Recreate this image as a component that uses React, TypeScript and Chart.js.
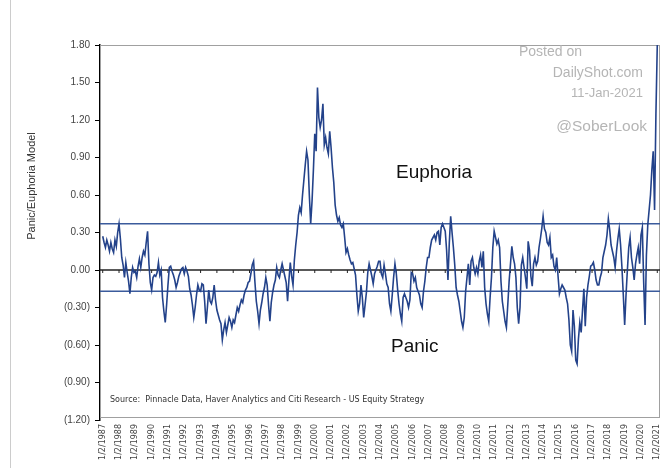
import { useEffect, useRef } from "react";
import { Chart, registerables } from "chart.js";

Chart.register(...registerables);

// Tick labels on the date axis (one per year, first trading day)
const xTickLabels: string[] = [
  "1/2/1987", "1/2/1988", "1/2/1989", "1/2/1990", "1/2/1991", "1/2/1992", "1/2/1993",
  "1/2/1994", "1/2/1995", "1/2/1996", "1/2/1997", "1/2/1998", "1/2/1999", "1/2/2000",
  "1/2/2001", "1/2/2002", "1/2/2003", "1/2/2004", "1/2/2005", "1/2/2006", "1/2/2007",
  "1/2/2008", "1/2/2009", "1/2/2010", "1/2/2011", "1/2/2012", "1/2/2013", "1/2/2014",
  "1/2/2015", "1/2/2016", "1/2/2017", "1/2/2018", "1/2/2019", "1/2/2020", "1/2/2021",
];
const pointsPerYear = 12;

const yTicks: number[] = [-1.2, -0.9, -0.6, -0.3, 0, 0.3, 0.6, 0.9, 1.2, 1.5, 1.8];

const euphoriaLevel = 0.37;
const panicLevel = -0.17;

// Panic/Euphoria Model, monthly readings Jan 1987 .. Jan 2021
const modelValues: number[] = [
  0.27, 0.22, 0.18, 0.24, 0.20, 0.15, 0.22, 0.17, 0.14, 0.24, 0.19, 0.30, // 1987
  0.37, 0.25, 0.10, 0.04, -0.06, 0.06, -0.02, -0.09, -0.19, -0.06, 0.02, -0.02, // 1988
  -0.01, -0.06, 0.03, 0.09, 0.02, 0.10, 0.15, 0.12, 0.22, 0.31, 0.05, -0.10, // 1989
  -0.16, -0.06, -0.04, -0.05, -0.02, 0.06, -0.04, 0.00, -0.22, -0.33, -0.42, -0.28, // 1990
  -0.12, 0.02, 0.03, -0.01, -0.04, -0.08, -0.14, -0.10, -0.05, -0.02, 0.01, 0.02, // 1991
  -0.03, 0.02, -0.01, -0.05, -0.15, -0.20, -0.28, -0.38, -0.30, -0.20, -0.12, -0.16, // 1992
  -0.17, -0.11, -0.12, -0.25, -0.43, -0.30, -0.16, -0.25, -0.27, -0.22, -0.12, -0.24, // 1993
  -0.32, -0.36, -0.40, -0.43, -0.56, -0.48, -0.42, -0.50, -0.44, -0.38, -0.41, -0.46, // 1994
  -0.40, -0.42, -0.36, -0.30, -0.33, -0.28, -0.24, -0.26, -0.20, -0.16, -0.14, -0.10, // 1995
  -0.09, -0.03, 0.04, 0.07, -0.10, -0.25, -0.33, -0.43, -0.32, -0.26, -0.19, -0.14, // 1996
  -0.06, -0.12, -0.28, -0.41, -0.26, -0.18, -0.12, -0.08, 0.02, -0.04, -0.06, 0.00, // 1997
  0.05, 0.00, -0.05, -0.10, -0.25, -0.08, 0.06, -0.05, -0.12, 0.08, 0.20, 0.30, // 1998
  0.44, 0.50, 0.46, 0.60, 0.72, 0.84, 0.95, 0.88, 0.60, 0.37, 0.55, 0.80, // 1999
  1.09, 0.95, 1.46, 1.22, 1.14, 1.20, 1.33, 1.00, 1.06, 0.98, 0.93, 1.11, // 2000
  0.98, 0.82, 0.70, 0.52, 0.44, 0.39, 0.42, 0.36, 0.34, 0.37, 0.26, 0.14, // 2001
  0.17, 0.12, 0.08, 0.05, 0.06, 0.01, -0.04, -0.20, -0.33, -0.27, -0.12, -0.22, // 2002
  -0.38, -0.28, -0.18, -0.02, 0.05, 0.00, -0.05, -0.11, -0.03, 0.00, 0.03, 0.07, // 2003
  0.07, -0.03, -0.06, 0.04, -0.03, -0.11, -0.14, -0.27, -0.33, -0.20, -0.06, 0.05, // 2004
  -0.03, -0.16, -0.27, -0.35, -0.41, -0.22, -0.19, -0.22, -0.25, -0.30, -0.24, -0.02, // 2005
  -0.03, -0.09, -0.06, -0.14, -0.17, -0.20, -0.27, -0.30, -0.17, -0.09, 0.02, 0.10, // 2006
  0.10, 0.18, 0.24, 0.26, 0.28, 0.24, 0.30, 0.31, 0.20, 0.34, 0.37, 0.34, // 2007
  0.31, 0.16, -0.08, 0.22, 0.43, 0.30, 0.18, 0.04, -0.14, -0.20, -0.25, -0.33, // 2008
  -0.41, -0.46, -0.38, -0.17, -0.06, 0.05, -0.12, 0.07, 0.10, 0.02, -0.03, 0.02, // 2009
  -0.03, 0.07, 0.12, 0.02, 0.15, -0.14, -0.27, -0.35, -0.41, -0.22, -0.06, 0.18, // 2010
  0.31, 0.26, 0.21, 0.24, 0.18, -0.09, -0.25, -0.33, -0.41, -0.46, -0.28, -0.09, // 2011
  0.05, 0.19, 0.10, 0.05, -0.06, -0.30, -0.43, -0.30, 0.04, 0.10, 0.02, -0.06, // 2012
  -0.15, 0.23, 0.16, -0.05, -0.13, 0.05, 0.10, 0.04, 0.07, 0.18, 0.25, 0.33, // 2013
  0.43, 0.33, 0.30, 0.22, 0.20, 0.26, 0.10, 0.12, 0.03, 0.00, 0.10, -0.05, // 2014
  -0.19, -0.15, -0.12, -0.14, -0.16, -0.22, -0.27, -0.40, -0.60, -0.65, -0.32, -0.45, // 2015
  -0.72, -0.75, -0.55, -0.42, -0.50, -0.32, -0.15, -0.45, -0.22, -0.12, -0.05, 0.03, // 2016
  0.04, 0.06, 0.00, -0.08, -0.12, -0.12, -0.06, -0.02, 0.10, 0.15, 0.20, 0.28, // 2017
  0.41, 0.32, 0.20, 0.15, 0.10, 0.02, 0.15, 0.25, 0.33, 0.20, 0.02, -0.20, // 2018
  -0.44, -0.20, 0.00, 0.18, 0.26, 0.10, 0.02, -0.08, 0.05, 0.12, 0.18, 0.05, // 2019
  0.28, 0.34, -0.10, -0.44, 0.12, 0.36, 0.48, 0.60, 0.80, 0.95, 0.48, 1.25, // 2020
  1.80, // 2021
];

const fmt = (v: number) => (v < -1e-9 ? `(${Math.abs(v).toFixed(2)})` : Math.abs(v).toFixed(2));

const decorPlugin = {
  id: "decor",
  beforeDatasetsDraw(chart: any) {
    const { ctx, chartArea: a, scales } = chart;
    const x = scales.x;
    const y = scales.y;
    ctx.save();
    // plot-area frame
    ctx.strokeStyle = "#a0a0a0";
    ctx.lineWidth = 1;
    ctx.strokeRect(a.left + 0.5, a.top + 0.5, a.right - a.left - 1, a.bottom - a.top - 3);
    // threshold lines
    ctx.strokeStyle = "#3b5b9c";
    ctx.lineWidth = 1.4;
    for (const lvl of [euphoriaLevel, panicLevel]) {
      const py = y.getPixelForValue(lvl);
      ctx.beginPath();
      ctx.moveTo(a.left, py);
      ctx.lineTo(a.right, py);
      ctx.stroke();
    }
    // zero line with year ticks
    const y0 = y.getPixelForValue(0);
    ctx.strokeStyle = "#222";
    ctx.lineWidth = 1.3;
    ctx.beginPath();
    ctx.moveTo(a.left, y0);
    ctx.lineTo(a.right, y0);
    ctx.stroke();
    ctx.lineWidth = 1;
    xTickLabels.forEach((_, i) => {
      const px = x.getPixelForValue(i * pointsPerYear);
      ctx.beginPath();
      ctx.moveTo(px, y0);
      ctx.lineTo(px, y0 + 3);
      ctx.stroke();
    });
    ctx.restore();
  },
  afterDraw(chart: any) {
    const { ctx } = chart;
    ctx.save();
    // outer frame line
    ctx.strokeStyle = "#cccccc";
    ctx.lineWidth = 1;
    ctx.beginPath();
    ctx.moveTo(10.5, 0);
    ctx.lineTo(10.5, 468);
    ctx.stroke();
    // y-axis title
    ctx.save();
    ctx.translate(32, 186);
    ctx.rotate(-Math.PI / 2);
    ctx.fillStyle = "#333";
    ctx.font = "11px 'Liberation Sans', Arial, sans-serif";
    ctx.textAlign = "center";
    ctx.textBaseline = "middle";
    ctx.fillText("Panic/Euphoria Model", 0, 0);
    ctx.restore();
    // region labels
    ctx.fillStyle = "#111";
    ctx.font = "19px 'Liberation Sans', Arial, sans-serif";
    ctx.textAlign = "left";
    ctx.textBaseline = "alphabetic";
    ctx.fillText("Euphoria", 396, 178);
    ctx.fillText("Panic", 391, 352);
    // watermark
    ctx.fillStyle = "#b5b5b5";
    ctx.font = "14px 'Liberation Sans', Arial, sans-serif";
    ctx.fillText("Posted on", 519, 56);
    ctx.textAlign = "right";
    ctx.fillText("DailyShot.com", 643, 77);
    ctx.font = "13px 'Liberation Sans', Arial, sans-serif";
    ctx.fillText("11-Jan-2021", 643, 97);
    ctx.font = "15.5px 'Liberation Sans', Arial, sans-serif";
    ctx.fillText("@SoberLook", 647, 131);
    // source
    ctx.textAlign = "left";
    ctx.fillStyle = "#333";
    ctx.font = "8px 'DejaVu Sans', Verdana, sans-serif";
    ctx.fillText("Source:  Pinnacle Data, Haver Analytics and Citi Research - US Equity Strategy", 110, 402);
    ctx.restore();
  },
};

export default function App() {
  const canvasRef = useRef<HTMLCanvasElement | null>(null);

  useEffect(() => {
    if (!canvasRef.current) return;
    const lastIndex = modelValues.length - 1;
    const chart = new Chart(canvasRef.current, {
      type: "line",
      data: {
        datasets: [
          {
            label: "Panic/Euphoria Model",
            data: modelValues.map((v, i) => ({ x: i, y: v })),
            borderColor: "#23428a",
            borderWidth: 1.6,
            pointRadius: 0,
            tension: 0,
            fill: false,
          },
        ],
      },
      options: {
        animation: false,
        responsive: true,
        maintainAspectRatio: false,
        layout: { padding: { top: 45, right: 10, bottom: 0, left: 0 } },
        plugins: { legend: { display: false }, tooltip: { enabled: false } },
        scales: {
          x: {
            type: "linear",
            min: -2,
            max: lastIndex + 2,
            afterBuildTicks: (s: any) => {
              s.ticks = xTickLabels.map((_, i) => ({ value: i * pointsPerYear }));
            },
            afterFit: (s: any) => {
              s.height = 48;
            },
            grid: { display: false },
            border: { display: false },
            ticks: {
              autoSkip: false,
              minRotation: 90,
              maxRotation: 90,
              padding: -4,
              color: "#444",
              font: { family: "'DejaVu Sans', Verdana, sans-serif", size: 8 },
              callback: (_v: any, i: number) => xTickLabels[i],
            },
          },
          y: {
            min: yTicks[0],
            max: yTicks[yTicks.length - 1],
            afterBuildTicks: (s: any) => {
              s.ticks = yTicks.map((v) => ({ value: v }));
            },
            afterFit: (s: any) => {
              s.width = 100;
            },
            grid: { drawOnChartArea: false, drawTicks: true, tickLength: 5, color: "#000", lineWidth: 1 },
            border: { display: true, color: "#000", width: 1.5 },
            ticks: {
              padding: 5,
              color: "#444",
              font: { family: "'Liberation Sans', Arial, sans-serif", size: 10 },
              callback: (v: any) => fmt(Number(v)),
            },
          },
        },
      },
      plugins: [decorPlugin],
    });
    return () => chart.destroy();
  }, []);

  return (
    <div style={{ position: "absolute", left: 0, top: 0, width: 670, height: 468, background: "#fff" }}>
      <canvas ref={canvasRef} />
    </div>
  );
}
